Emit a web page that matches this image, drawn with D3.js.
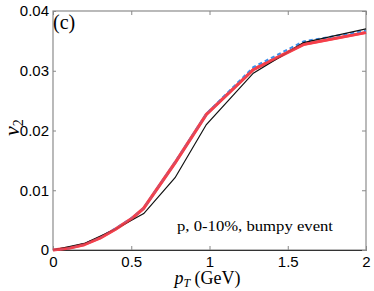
<!DOCTYPE html>
<html>
<head>
<meta charset="utf-8">
<script src="https://cdn.jsdelivr.net/npm/d3@7"></script>
<style>
  body { margin: 0; background: #fff; }
  .tick text { font-family: "Liberation Sans", Arial, sans-serif; }
</style>
</head>
<body>
<svg id="chart"></svg>
<script>
const xTicks = [0, 0.5, 1, 1.5, 2];
const yTicks = [0, 0.01, 0.02, 0.03, 0.04];

const ptBlack = [0, 0.2, 0.4, 0.58, 0.78, 0.98, 1.28, 1.6, 2.0];
const v2Black = [0, 0.0011, 0.0035, 0.0061, 0.0121, 0.021, 0.0296, 0.0347, 0.0370];

const ptBlue = [0, 0.1, 0.2, 0.3, 0.4, 0.5, 0.58, 0.78, 0.98, 1.28, 1.6, 2.0];
const v2Blue = [0, 0.0003, 0.0010, 0.0021, 0.0036, 0.0053, 0.0070, 0.0147, 0.0228, 0.0306, 0.0349, 0.0367];

const ptRed = [0, 0.1, 0.2, 0.3, 0.4, 0.5, 0.58, 0.78, 0.98, 1.28, 1.6, 2.0];
const v2Red = [0, 0.0003, 0.0009, 0.0020, 0.0035, 0.0052, 0.0070, 0.0146, 0.0227, 0.0302, 0.0344, 0.0364];

const margin = { top: 11, right: 8, bottom: 41, left: 53 };
const width = 374 - margin.left - margin.right;
const height = 291 - margin.top - margin.bottom;

const svg = d3.select("#chart")
    .attr("width", 374)
    .attr("height", 291)
  .append("g")
    .attr("transform", `translate(${margin.left},${margin.top})`);

const x = d3.scaleLinear().domain([0, 2]).range([0, width]);
const y = d3.scaleLinear().domain([0, 0.04]).range([height, 0]);

// frame
svg.append("rect")
    .attr("width", width)
    .attr("height", height)
    .attr("fill", "none")
    .attr("stroke", "#8c8c8c")
    .attr("stroke-width", 1.2);

const fmtY = d => d === 0 ? "0" : d3.format(".2f")(d);

svg.append("g")
    .attr("transform", `translate(0,${height})`)
    .call(d3.axisBottom(x).tickValues(xTicks).tickSizeInner(-4).tickSizeOuter(0).tickPadding(6).tickFormat(d3.format("~g")))
    .call(g => g.select(".domain").attr("stroke", "#333").attr("stroke-width", 1.2))
    .call(g => g.selectAll(".tick line").attr("stroke", "#888"))
    .call(g => g.selectAll(".tick text").attr("font-size", 15).attr("fill", "#000"));

svg.append("g")
    .call(d3.axisTop(x).tickValues(xTicks).tickSizeInner(-4).tickSizeOuter(0).tickFormat(""))
    .call(g => g.select(".domain").remove())
    .call(g => g.selectAll(".tick line").attr("stroke", "#888"));

svg.append("g")
    .call(d3.axisLeft(y).tickValues(yTicks).tickSizeInner(-3).tickSizeOuter(0).tickPadding(4).tickFormat(fmtY))
    .call(g => g.select(".domain").remove())
    .call(g => g.selectAll(".tick line").attr("stroke", "#888"))
    .call(g => g.selectAll(".tick text").attr("font-size", 15).attr("fill", "#000"));

svg.append("g")
    .attr("transform", `translate(${width},0)`)
    .call(d3.axisRight(y).tickValues(yTicks).tickSizeInner(-4).tickSizeOuter(0).tickFormat(""))
    .call(g => g.select(".domain").remove())
    .call(g => g.selectAll(".tick line").attr("stroke", "#888"));

const line = d3.line().x(d => x(d[0])).y(d => y(d[1]));

svg.append("path")
    .datum(d3.zip(ptRed, v2Red))
    .attr("fill", "none")
    .attr("stroke", "#f4404a")
    .attr("stroke-width", 3.2)
    .attr("stroke-linejoin", "round")
    .attr("d", line);

svg.append("path")
    .datum(d3.zip(ptBlue, v2Blue))
    .attr("fill", "none")
    .attr("stroke", "#3d8fe8")
    .attr("stroke-width", 2)
    .attr("stroke-dasharray", "4,3")
    .attr("d", line);

svg.append("path")
    .datum(d3.zip(ptBlack, v2Black))
    .attr("fill", "none")
    .attr("stroke", "#111")
    .attr("stroke-width", 1.2)
    .attr("d", line);

// red drawn on top where it covers blue
svg.append("path")
    .datum(d3.zip(ptRed, v2Red))
    .attr("fill", "none")
    .attr("stroke", "#f4404a")
    .attr("stroke-width", 2.6)
    .attr("stroke-opacity", 0.85)
    .attr("stroke-linejoin", "round")
    .attr("d", line);

const serif = "'Liberation Serif', serif";

svg.append("text")
    .attr("x", 0)
    .attr("y", 18)
    .attr("font-family", serif)
    .attr("font-size", 20)
    .text("(c)");

svg.append("text")
    .attr("x", width - 33)
    .attr("y", height - 19)
    .attr("text-anchor", "end")
    .attr("font-family", serif)
    .attr("font-size", 14)
    .attr("textLength", 156)
    .attr("lengthAdjust", "spacingAndGlyphs")
    .text("p, 0-10%, bumpy event");

// x label
const xl = svg.append("text")
    .attr("x", width / 2 - 2)
    .attr("y", height + 34)
    .attr("text-anchor", "middle")
    .attr("font-family", serif)
    .attr("font-size", 18);
xl.append("tspan").attr("font-style", "italic").text("p");
xl.append("tspan").attr("font-style", "italic").attr("font-size", 12).attr("dy", 3).text("T");
xl.append("tspan").attr("dy", -3).text(" (GeV)");

// y label
const yl = svg.append("text")
    .attr("transform", `translate(${-34},${height / 2 - 3}) rotate(-90)`)
    .attr("text-anchor", "middle")
    .attr("font-family", serif)
    .attr("font-size", 22);
yl.append("tspan").attr("font-style", "italic").text("v");
yl.append("tspan").attr("font-size", 14).attr("dy", 4).text("2");
</script>
</body>
</html>
